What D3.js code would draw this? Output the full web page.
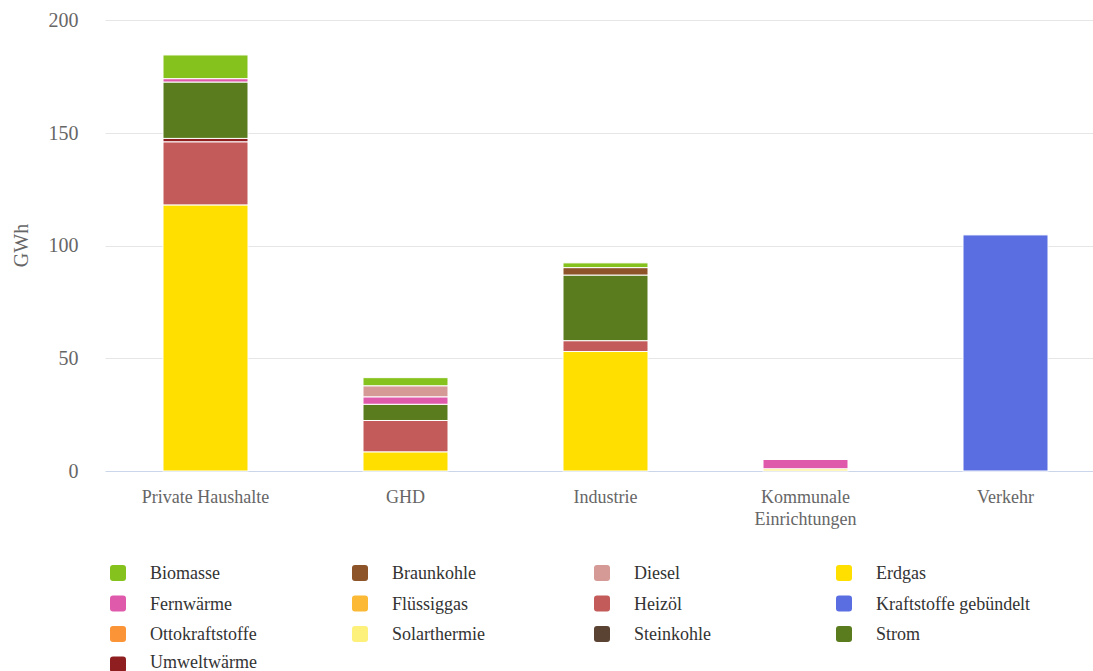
<!DOCTYPE html>
<html>
<head>
<meta charset="utf-8">
<script src="https://cdn.jsdelivr.net/npm/d3@7"></script>
<style>
  html, body { margin: 0; padding: 0; background: #fff; }
  svg { display: block; }
  svg text { font-family: "Liberation Serif", "DejaVu Serif", serif; }
</style>
</head>
<body>
<svg id="chart" width="1093" height="671"></svg>
<script>
// Endenergieverbrauch nach Sektor und Energieträger (GWh)
const categories = ["Private Haushalte", "GHD", "Industrie", "Kommunale Einrichtungen", "Verkehr"];
const categoryLines = [["Private Haushalte"], ["GHD"], ["Industrie"], ["Kommunale", "Einrichtungen"], ["Verkehr"]];

// legend order
const carriers = ["Biomasse", "Braunkohle", "Diesel", "Erdgas", "Fernwärme", "Flüssiggas", "Heizöl",
  "Kraftstoffe gebündelt", "Ottokraftstoffe", "Solarthermie", "Steinkohle", "Strom", "Umweltwärme"];
const carrierColors = ["#86c21d", "#8c5428", "#d59a95", "#ffdf00", "#e05aab", "#fbb936", "#c45b5b",
  "#5a6ee2", "#fb9437", "#fdf07b", "#5b4333", "#5a7c1e", "#8e1e20"];

// values per carrier, one per category
const Biomasse = [10.5, 3.6, 2.1, 0, 0];
const Braunkohle = [0, 0, 3.3, 0, 0];
const Diesel = [0, 4.9, 0, 0, 0];
const Erdgas = [118, 8.5, 53, 0, 0];
const Fernwaerme = [1.5, 3.3, 0, 4.1, 0];
const Fluessiggas = [0, 0, 0, 0, 0];
const Heizoel = [28, 13.9, 4.8, 0, 0];
const KraftstoffeGebuendelt = [0, 0, 0, 0, 104.7];
const Ottokraftstoffe = [0, 0, 0, 0, 0];
const Solarthermie = [0, 0, 0, 1.0, 0];
const Steinkohle = [0, 0, 0, 0, 0];
const Strom = [25, 7.2, 29.1, 0, 0];
const Umweltwaerme = [1.5, 0, 0, 0, 0];

const seriesValues = {
  "Biomasse": Biomasse, "Braunkohle": Braunkohle, "Diesel": Diesel, "Erdgas": Erdgas,
  "Fernwärme": Fernwaerme, "Flüssiggas": Fluessiggas, "Heizöl": Heizoel,
  "Kraftstoffe gebündelt": KraftstoffeGebuendelt, "Ottokraftstoffe": Ottokraftstoffe,
  "Solarthermie": Solarthermie, "Steinkohle": Steinkohle, "Strom": Strom, "Umweltwärme": Umweltwaerme
};

// stacking order, bottom to top
const stackOrder = ["Solarthermie", "Erdgas", "Flüssiggas", "Heizöl", "Umweltwärme", "Strom", "Steinkohle",
  "Braunkohle", "Fernwärme", "Diesel", "Biomasse", "Kraftstoffe gebündelt", "Ottokraftstoffe"];

const yTicks = [0, 50, 100, 150, 200];

const FONT = '"Liberation Serif", "DejaVu Serif", serif';
const svg = d3.select("#chart");
const plot = { left: 105.5, right: 1105.5, top: 20, bottom: 471 };

const x = d3.scaleBand().domain(categories).range([plot.left, plot.right]).paddingInner(0.575).paddingOuter(0.2875);
const y = d3.scaleLinear().domain([0, 200]).range([plot.bottom, plot.top]);
const color = d3.scaleOrdinal().domain(carriers).range(carrierColors);

// grid lines
svg.append("g").selectAll("line").data(yTicks).join("line")
  .attr("x1", plot.left).attr("x2", plot.right)
  .attr("y1", d => Math.round(y(d)) + 0.5).attr("y2", d => Math.round(y(d)) + 0.5)
  .attr("stroke", d => d === 0 ? "#ccd6eb" : "#e6e6e6").attr("stroke-width", 1);

// y axis labels
const yAxis = svg.append("g").attr("transform", `translate(${plot.left - 27},0)`)
  .call(d3.axisLeft(y).tickValues(yTicks).tickSize(0).tickPadding(0));
yAxis.attr("font-family", FONT);
yAxis.select(".domain").remove();
yAxis.selectAll("text").attr("font-size", 20).attr("fill", "#666").attr("dy", "0.32em");

svg.append("text").attr("transform", `translate(28,${(plot.top + plot.bottom) / 2}) rotate(-90)`)
  .attr("text-anchor", "middle").attr("font-size", 20).attr("fill", "#666")
  .attr("font-family", FONT).text("GWh");

// stacked bars
const rows = categories.map((c, i) => {
  const r = { category: c };
  carriers.forEach(k => { r[k] = seriesValues[k][i]; });
  return r;
});
const stacked = d3.stack().keys(stackOrder)(rows);

svg.append("g").selectAll("g").data(stacked).join("g")
  .attr("fill", d => color(d.key))
  .selectAll("rect").data(d => d.filter(p => p[1] - p[0] > 0)).join("rect")
  .attr("x", d => x(d.data.category))
  .attr("width", x.bandwidth())
  .attr("y", d => y(d[1]))
  .attr("height", d => y(d[0]) - y(d[1]))
  .attr("stroke", "#fff").attr("stroke-width", 1);

// x axis labels
const xl = svg.append("g").attr("font-family", FONT);
categories.forEach((c, i) => {
  const t = xl.append("text").attr("x", x(c) + x.bandwidth() / 2).attr("y", 503)
    .attr("text-anchor", "middle").attr("font-size", 18).attr("fill", "#666");
  categoryLines[i].forEach((line, j) => {
    t.append("tspan").attr("x", x(c) + x.bandwidth() / 2).attr("dy", j === 0 ? 0 : 22).text(line);
  });
});

// legend
const legend = svg.append("g").attr("font-family", FONT);
carriers.forEach((k, i) => {
  const col = i % 4, row = Math.floor(i / 4);
  const gx = 110 + col * 242, gy = 565 + row * 30.5;
  legend.append("rect").attr("x", gx).attr("y", gy).attr("width", 16).attr("height", 16)
    .attr("rx", 3).attr("fill", color(k));
  legend.append("text").attr("x", gx + 40).attr("y", Math.min(gy + 14, 668))
    .attr("font-size", 18).attr("fill", "#333").text(k);
});
</script>
</body>
</html>
